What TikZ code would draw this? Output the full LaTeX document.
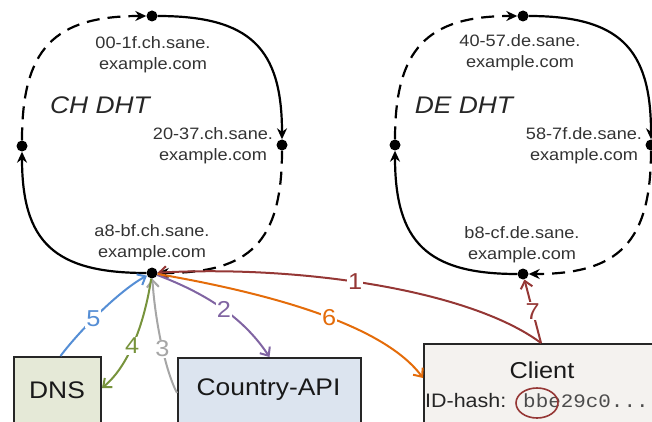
\documentclass[tikz,border=0pt]{standalone}
\usepackage{fontspec}
\setmainfont{Liberation Sans}[FakeStretch=1.1]
\setmonofont{Liberation Mono}[FakeStretch=1.1]
\usetikzlibrary{arrows.meta,shapes.geometric}
\definecolor{cRed}{HTML}{953735}
\definecolor{cOrange}{HTML}{E46C0A}
\definecolor{cPurple}{HTML}{8064A2}
\definecolor{cGray}{HTML}{A6A6A6}
\definecolor{cGreen}{HTML}{77933C}
\definecolor{cBlue}{HTML}{558ED5}
\definecolor{txtGray}{HTML}{333333}
\definecolor{dnsFill}{HTML}{E5E9D7}
\definecolor{apiFill}{HTML}{DCE4EF}
\definecolor{cliFill}{HTML}{F4F2EF}
\tikzset{
  ringdot/.style={circle, fill=black, inner sep=0pt, minimum size=11pt},
  ringsolid/.style={line width=2.2pt, -{Stealth[length=11pt,width=10pt]}},
  ringdash/.style={ringsolid, dash pattern=on 13pt off 8pt},
  hostlbl/.style={text=txtGray, font=\fontsize{16.5}{21}\selectfont, align=center, inner sep=0pt},
  dhtlbl/.style={text=black!85, font=\fontsize{24}{28}\selectfont\itshape, inner sep=0pt},
  boxnode/.style={draw=black!85, line width=2pt, anchor=north west, inner sep=0pt},
  boxtxt/.style={text=black!90, font=\fontsize{24}{28}\selectfont, inner sep=0pt},
  conn/.style={line width=2pt, -{Straight Barb[length=7pt,width=12pt,line width=2pt]}},
  numlbl/.style={fill=white, inner sep=1pt, font=\fontsize{23}{26}\selectfont}
}
\begin{document}
\begin{tikzpicture}[x=1pt,y=-1pt]
\useasboundingbox (0,0) rectangle (652,422);
% ---------- CH DHT ring ----------
\node[ringdot] (chT) at (152,16) {};
\node[ringdot] (chR) at (282,145) {};
\node[ringdot] (chB) at (152,273) {};
\node[ringdot] (chL) at (22,146) {};
\draw[ringdash]  (chL) .. controls (22,49) and (54,16) .. (chT);
\draw[ringsolid] (chT) .. controls (250,16) and (282,48) .. (chR);
\draw[ringdash]  (chR) .. controls (282,242) and (250,273) .. (chB);
\draw[ringsolid] (chB) .. controls (54,273) and (22,242) .. (chL);
\node[hostlbl] (chTl) at (153,54.5) {00-1f.ch.sane.\\example.com};
\node[hostlbl] (chRl) at (213,146) {20-37.ch.sane.\\example.com};
\node[hostlbl] (chBl) at (152,243) {a8-bf.ch.sane.\\example.com};
\node[dhtlbl] (chName) at (100,105) {CH DHT};
% ---------- DE DHT ring ----------
\node[ringdot] (deT) at (523,16) {};
\node[ringdot] (deR) at (651,145) {};
\node[ringdot] (deB) at (523,274) {};
\node[ringdot] (deL) at (395,145) {};
\draw[ringdash]  (deL) .. controls (395,49) and (427,16) .. (deT);
\draw[ringsolid] (deT) .. controls (619,16) and (651,48) .. (deR);
\draw[ringdash]  (deR) .. controls (651,242) and (619,274) .. (deB);
\draw[ringsolid] (deB) .. controls (427,274) and (395,242) .. (deL);
\node[hostlbl] (deTl) at (520,52.5) {40-57.de.sane.\\example.com};
\node[hostlbl] (deRl) at (584,146) {58-7f.de.sane.\\example.com};
\node[hostlbl] (deBl) at (522,245) {b8-cf.de.sane.\\example.com};
\node[dhtlbl] (deName) at (464,105) {DE DHT};
% ---------- boxes ----------
\node[boxnode, fill=dnsFill, minimum width=87pt, minimum height=80pt] (dns) at (13,356) {};
\node[boxtxt] (dnsTxt) at (57,390) {DNS};
\node[boxnode, fill=apiFill, minimum width=183pt, minimum height=80pt] (api) at (177,357) {};
\node[boxtxt] (apiTxt) at (268.5,390) {Country-API};
\node[boxnode, fill=cliFill, minimum width=234pt, minimum height=90pt] (client) at (423,343) {};
\node[boxtxt, font=\fontsize{23}{27}\selectfont] (cliTxt) at (542,370) {Client};
\node[inner sep=0pt, anchor=base west, text=black!85, font=\fontsize{19.5}{23}\selectfont] (idTxt) at (425,407) {ID-hash:};
\node[inner sep=0pt, anchor=base west, text=black!70, font=\fontsize{19}{23}\selectfont\ttfamily] (hashTxt) at (523,407) {bbe29c0...};
\node[ellipse, draw=cRed, line width=1.6pt, inner sep=0pt, minimum width=42pt, minimum height=30pt] (hashMark) at (537,403) {};
% ---------- connectors ----------
\draw[conn, cRed] (client.north) .. controls (470,290) and (300,265) .. (chB)
  node[numlbl, text=cRed, pos=0.55] {1};
\draw[conn, cPurple] (chB) .. controls (210,295) and (245,320) .. (api.north)
  node[numlbl, text=cPurple, pos=0.5] {2};
\draw[conn, cGray] ([yshift=5pt]api.west) .. controls (165,370) and (155,320) .. (chB)
  node[numlbl, text=cGray, pos=0.45] {3};
\draw[conn, cGreen] (chB) .. controls (145,320) and (130,365) .. ([yshift=9pt]dns.east)
  node[numlbl, text=cGreen, pos=0.55] {4};
\draw[conn, cBlue] ([xshift=3pt]dns.north) .. controls (80,330) and (120,290) .. (chB)
  node[numlbl, text=cBlue, pos=0.42] {5};
\draw[conn, cOrange] (chB) .. controls (250,290) and (380,320) .. ([yshift=-35pt]client.north west)
  node[numlbl, text=cOrange, pos=0.57] {6};
\draw[conn, cRed] (client.north) -- (deB)
  node[numlbl, text=cRed, pos=0.5] {7};
\end{tikzpicture}
\end{document}
